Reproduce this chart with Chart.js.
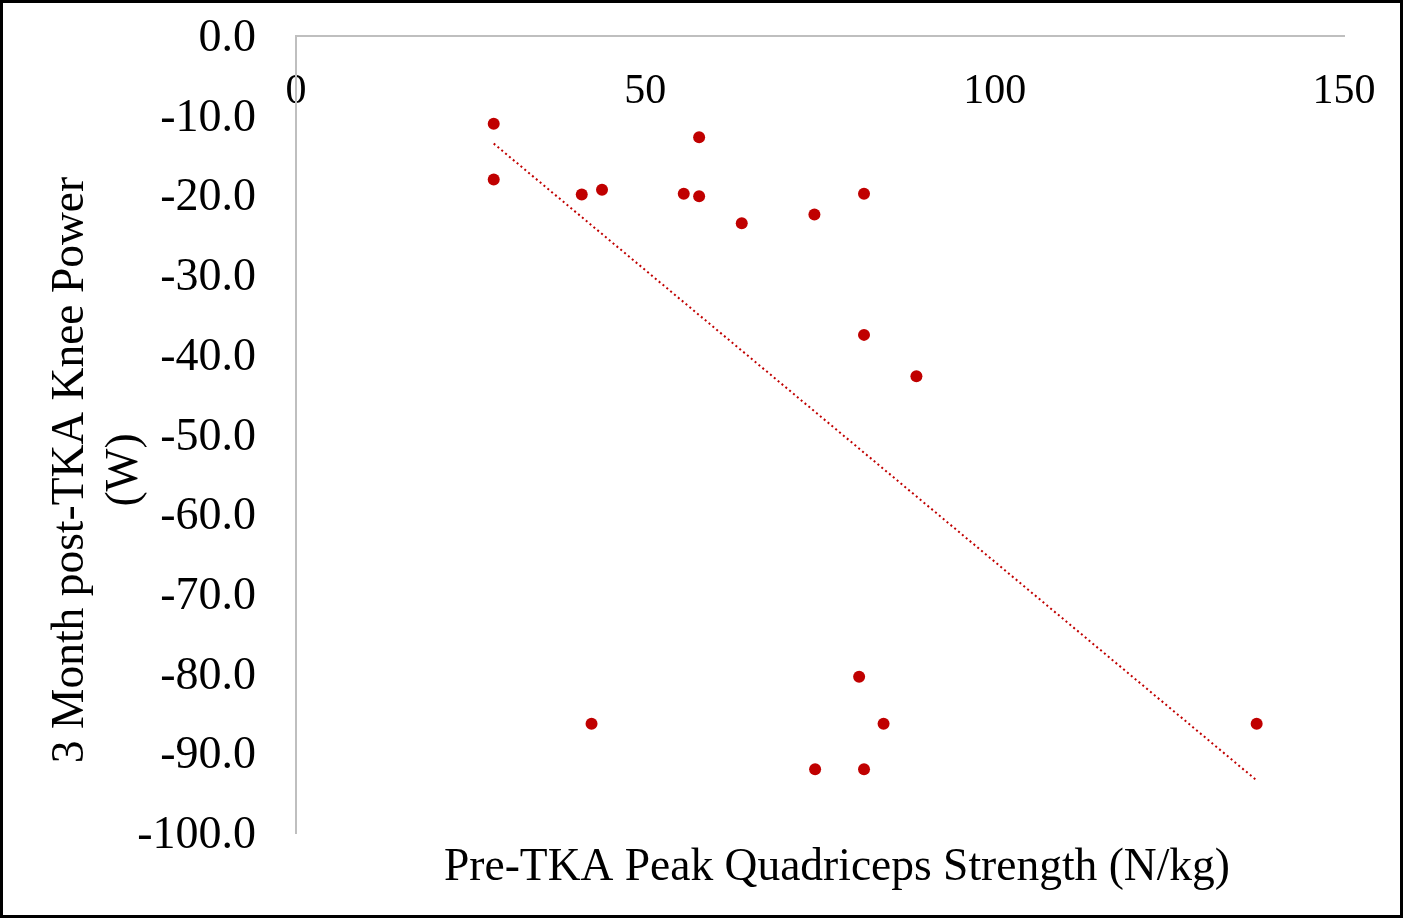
<!DOCTYPE html>
<html>
<head>
<meta charset="utf-8">
<script src="https://cdn.jsdelivr.net/npm/chart.js@4"></script>
<style>
  html, body { margin: 0; padding: 0; background: #fff; }
  #frame {
    width: 1403px;
    height: 918px;
    box-sizing: border-box;
    border: 3px solid #000;
    background: #fff;
  }
  canvas { display: block; }
</style>
</head>
<body>
<div id="frame">
  <canvas id="scatter-chart" width="1397" height="912"></canvas>
</div>
<script>
//scatter chart

var ctx = document.getElementById('scatter-chart');

//pre-TKA quadriceps strength (N/kg)
var strength = [28.3, 28.3, 40.9, 43.8, 55.5, 57.7, 57.7, 63.8, 74.2, 81.3, 81.3, 88.8, 80.6, 42.3, 84.1, 74.3, 81.3, 137.5];
//3 month knee power (W)
var power = [-11.0, -18.0, -19.9, -19.3, -19.8, -12.7, -20.1, -23.5, -22.4, -19.8, -37.5, -42.7, -80.4, -86.3, -86.3, -92.0, -92.0, -86.3];

//linear trendline end points
var trendX = [28.3, 137.5];
var trendY = [-13.5, -93.4];

//axis titles
var xTitle = 'Pre-TKA Peak Quadriceps Strength (N/kg)';
var yTitle = ['3 Month post-TKA Knee Power', '(W)'];

var points = strength.map(function (x, i) { return { x: x, y: power[i] }; });
var trend = trendX.map(function (x, i) { return { x: x, y: trendY[i] }; });

var serif = "'Liberation Serif', 'Times New Roman', serif";
Chart.defaults.font.family = serif;
Chart.defaults.color = '#000';

//titles placed like the excel export
var axisTitles = {
    id: 'axisTitles',
    afterDraw: function (chart) {
        var c = chart.ctx;
        c.save();
        c.fillStyle = '#000';
        c.font = '45.5px ' + serif;
        c.textAlign = 'center';
        c.textBaseline = 'alphabetic';
        c.fillText(xTitle, 834, 877);
        var baselines = [80, 134];
        yTitle.forEach(function (line, i) {
            c.save();
            c.translate(baselines[i], 467);
            c.rotate(-Math.PI / 2);
            c.fillText(line, 0, 0);
            c.restore();
        });
        c.restore();
    }
};

//keep label padding from pushing the plot area in
function noEdgePadding(scale) {
    scale.paddingTop = 0;
    scale.paddingBottom = 0;
    scale.paddingLeft = 0;
    scale.paddingRight = 0;
}

var myChart = new Chart(ctx, {
    type: 'scatter',
    data: {
        datasets: [
        {
            label: 'Knee Power',
            data: points,
            backgroundColor: '#c00000',
            borderColor: '#c00000',
            borderWidth: 0,
            pointRadius: 6,
            order: 1
        },
        {
            label: 'Linear trend',
            data: trend,
            showLine: true,
            borderColor: '#c00000',
            borderWidth: 2,
            borderDash: [2, 3],
            pointRadius: 0,
            fill: false,
            order: 2
        }]
    },
    options: {
        responsive: false,
        animation: false,
        layout: {
            padding: { left: 0, top: 33, right: 56, bottom: 82 }
        },
        plugins: {
            legend: { display: false },
            tooltip: { enabled: false }
        },
        scales: {
            x: {
                type: 'linear',
                position: { y: 0 },
                min: 0,
                max: 150,
                grid: { display: false, drawTicks: false },
                border: { display: true, color: '#bfbfbf', width: 2 },
                ticks: {
                    stepSize: 50,
                    padding: 31,
                    font: { size: 42 },
                    color: '#000',
                    maxRotation: 0
                },
                afterFit: noEdgePadding
            },
            y: {
                type: 'linear',
                position: 'left',
                min: -100,
                max: 0,
                grid: { display: false, drawTicks: false },
                border: { display: true, color: '#bfbfbf', width: 2 },
                ticks: {
                    stepSize: 10,
                    padding: 40,
                    labelOffset: 3,
                    font: { size: 46 },
                    color: '#000',
                    callback: function (v) { return v.toFixed(1); }
                },
                afterFit: function (scale) {
                    noEdgePadding(scale);
                    scale.width = 293;
                }
            }
        }
    },
    plugins: [axisTitles]
});
</script>
</body>
</html>
